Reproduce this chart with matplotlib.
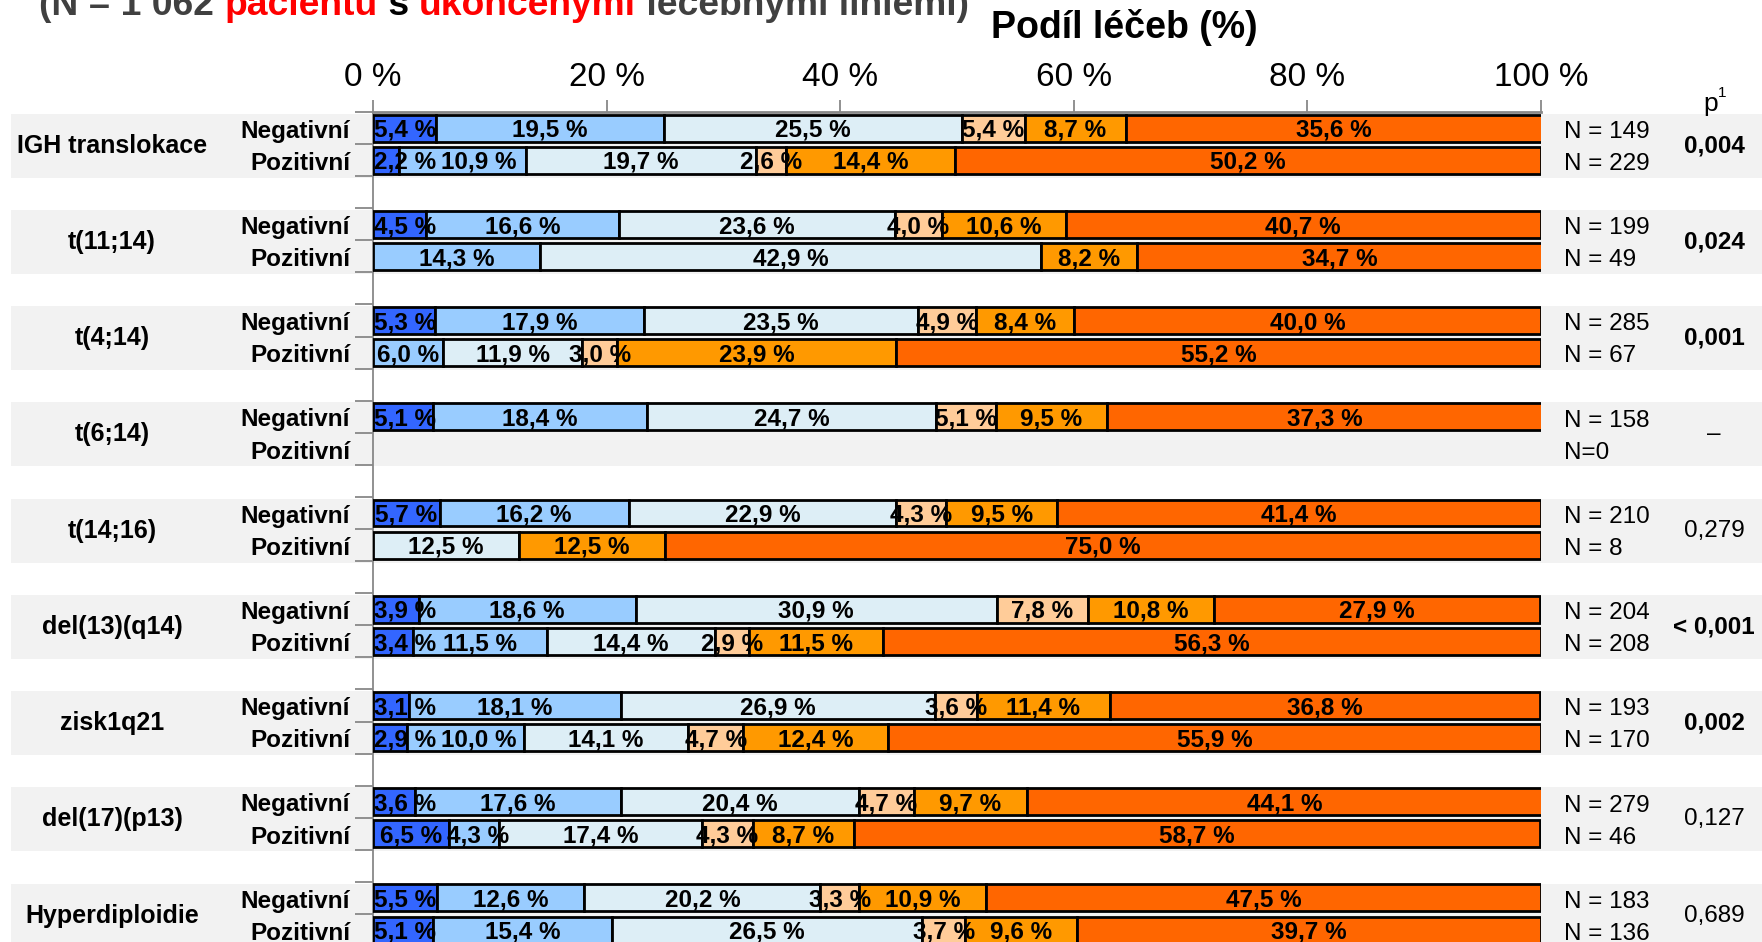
import matplotlib
matplotlib.use('Agg')
import matplotlib.pyplot as plt
from matplotlib.patches import Rectangle
import matplotlib.transforms as mtransforms
import numpy as np

plt.rcParams['font.family'] = ['Liberation Sans', 'DejaVu Sans']

# ---------------- data ----------------
groups = ['IGH translokace', 't(11;14)', 't(4;14)', 't(6;14)', 't(14;16)',
          'del(13)(q14)', 'zisk1q21', 'del(17)(p13)', 'Hyperdiploidie']
row_labels = ['Negativní', 'Pozitivní']

neg_s1 = [5.4, 4.5, 5.3, 5.1, 5.7, 3.9, 3.1, 3.6, 5.5]
neg_s2 = [19.5, 16.6, 17.9, 18.4, 16.2, 18.6, 18.1, 17.6, 12.6]
neg_s3 = [25.5, 23.6, 23.5, 24.7, 22.9, 30.9, 26.9, 20.4, 20.2]
neg_s4 = [5.4, 4.0, 4.9, 5.1, 4.3, 7.8, 3.6, 4.7, 3.3]
neg_s5 = [8.7, 10.6, 8.4, 9.5, 9.5, 10.8, 11.4, 9.7, 10.9]
neg_s6 = [35.6, 40.7, 40.0, 37.3, 41.4, 27.9, 36.8, 44.1, 47.5]

pos_s1 = [2.2, 0, 0, 0, 0, 3.4, 2.9, 6.5, 5.1]
pos_s2 = [10.9, 14.3, 6.0, 0, 0, 11.5, 10.0, 4.3, 15.4]
pos_s3 = [19.7, 42.9, 11.9, 0, 12.5, 14.4, 14.1, 17.4, 26.5]
pos_s4 = [2.6, 0, 3.0, 0, 0, 2.9, 4.7, 4.3, 3.7]
pos_s5 = [14.4, 8.2, 23.9, 0, 12.5, 11.5, 12.4, 8.7, 9.6]
pos_s6 = [50.2, 34.7, 55.2, 0, 75.0, 56.3, 55.9, 58.7, 39.7]

n_neg = [149, 199, 285, 158, 210, 204, 193, 279, 183]
n_pos = [229, 49, 67, 0, 8, 208, 170, 46, 136]
p_values = ['0,004', '0,024', '0,001', '–', '0,279', '< 0,001', '0,002', '0,127', '0,689']
p_bold = [True, True, True, False, False, True, True, False, False]

x_ticks = [0, 20, 40, 60, 80, 100]
x_ticklabels = ['0 %', '20 %', '40 %', '60 %', '80 %', '100 %']

seg_colors = ['#3366FF', '#99CCFF', '#DDEEF6', '#FFCC99', '#FF9900', '#FF6600']

# ---------------- figure ----------------
W, H = 1762, 942
fig = plt.figure(figsize=(W / 100, H / 100), dpi=100)
ax_top_px = 112
ax = fig.add_axes([373 / W, 0, 1168 / W, 1 - ax_top_px / H])
ax.patch.set_alpha(0)

ymax = -0.5
ymin = (H - ax_top_px) / 32.08 + ymax
ax.set_ylim(ymin, ymax)
ax.set_xlim(0, 100)

neg_segs = [neg_s1, neg_s2, neg_s3, neg_s4, neg_s5, neg_s6]
pos_segs = [pos_s1, pos_s2, pos_s3, pos_s4, pos_s5, pos_s6]

bar_h = 0.84
LBL = 17.5
row_value_texts = []
for g in range(len(groups)):
    for r, segs in enumerate([neg_segs, pos_segs]):
        y = 3 * g + r
        left = 0.0
        row = []
        for k in range(6):
            v = segs[k][g]
            if v > 0:
                ax.barh(y, v, left=left, height=bar_h, color=seg_colors[k],
                        edgecolor='black', linewidth=2.0, zorder=3)
                t = ax.text(left + v / 2, y + 0.07,
                            f"{v:.1f}".replace('.', ',') + ' %',
                            ha='center', va='center', fontsize=LBL,
                            fontweight='bold', color='black', zorder=5)
                row.append(t)
            left += v
        row_value_texts.append(row)

# axes styling
for s in ['right', 'bottom']:
    ax.spines[s].set_visible(False)
ax.spines['left'].set_color('#888888')
ax.spines['left'].set_linewidth(1.3)
ax.spines['top'].set_color('#888888')
ax.spines['top'].set_linewidth(2.0)
ax.xaxis.set_ticks_position('top')
ax.set_xticks(x_ticks)
ax.set_xticklabels(x_ticklabels, fontsize=24)
ax.tick_params(axis='x', length=9, width=1.3, color='#888888', pad=5)
yt = np.arange(-0.5, ymin, 1.0)
ax.set_yticks(yt)
ax.set_yticklabels([])
ax.tick_params(axis='y', length=13, width=1.3, color='#888888', direction='out')

# background bands
btrans = mtransforms.blended_transform_factory(fig.transFigure, ax.transData)
for g in range(len(groups)):
    rect = Rectangle((11 / W, 3 * g - 0.45), 1 - 11 / W, 2.0, transform=btrans,
                     facecolor='#F2F2F2', edgecolor='none', zorder=-5)
    fig.add_artist(rect)

for g, name in enumerate(groups):
    ax.text(112 / W, 3 * g + 0.55, name, transform=btrans, ha='center',
            va='center', fontsize=18, fontweight='bold')
    for r in range(2):
        ax.text(350 / W, 3 * g + r + 0.1, row_labels[r], transform=btrans,
                ha='right', va='center', fontsize=17.5, fontweight='bold')
    for r, n in enumerate([n_neg[g], n_pos[g]]):
        s = 'N=0' if n == 0 else f'N = {n}'
        ax.text(1564 / W, 3 * g + r + 0.12, s, transform=btrans, ha='left',
                va='center', fontsize=17.5)
    ax.text(1714 / W, 3 * g + 0.55, p_values[g], transform=btrans, ha='center',
            va='center', fontsize=17.5,
            fontweight='bold' if p_bold[g] else 'normal')

ax.text(1711 / W, -0.75, 'p', transform=btrans, ha='center', va='center',
        fontsize=19)
ax.text(1718 / W, -1.1, '1', transform=btrans, ha='left', va='center',
        fontsize=11)

# header
fig.text(1124 / W, 1 - 28 / H, 'Podíl léčeb (%)', ha='center', va='center',
         fontsize=27, fontweight='bold')

# cut-off title at top
fig.canvas.draw()
renderer = fig.canvas.get_renderer()
pieces = [('(N = 1 062 ', '#404040'), ('pacientů', '#FF0000'), (' s ', '#000000'),
          ('ukončenými', '#FF0000'), (' léčebnými liniemi)', '#404040')]
x_px = 39
for txt, col in pieces:
    t = fig.text(x_px / W, 1 - 15 / H, txt, ha='left', va='baseline',
                 fontsize=26.8, fontweight='bold', color=col)
    bb = t.get_window_extent(renderer)
    x_px += bb.width

# keep value labels inside the axis and apart from each other
fig.canvas.draw()
ax_left_px = ax.get_window_extent(renderer).x0
for row in row_value_texts:
    prev_right = ax_left_px + 1
    for t in row:
        bb = t.get_window_extent(renderer)
        if bb.x0 < prev_right:
            shift = prev_right - bb.x0
            x_disp, y_disp = ax.transData.transform(t.get_position())
            nx, ny = ax.transData.inverted().transform((x_disp + shift, y_disp))
            t.set_position((nx, ny))
            prev_right = bb.x1 + shift + 5
        else:
            prev_right = bb.x1 + 5

fig.savefig('out.png', dpi=100)
